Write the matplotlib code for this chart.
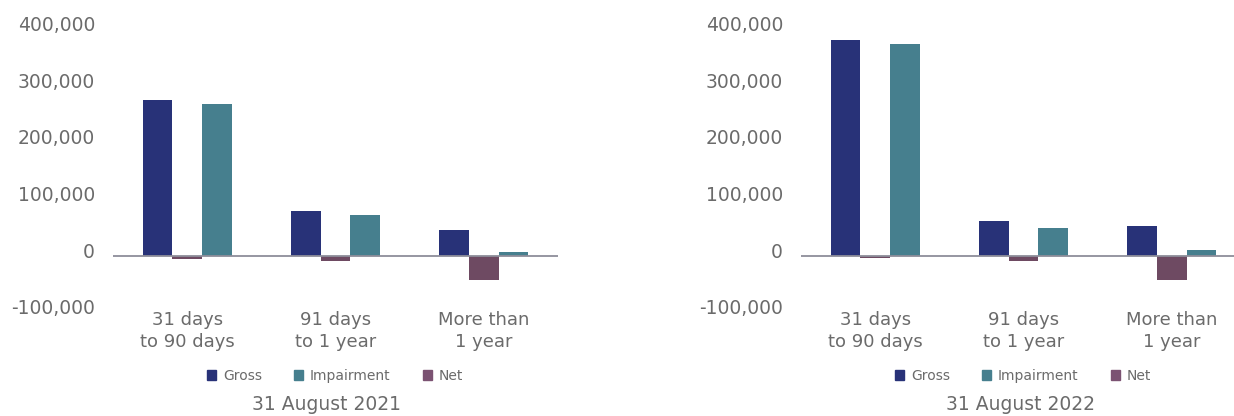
import matplotlib
matplotlib.use("Agg")
import matplotlib.pyplot as plt
import numpy as np
from matplotlib.transforms import ScaledTranslation
from matplotlib.patches import Patch

categories = ["31 days\nto 90 days", "91 days\nto 1 year", "More than\n1 year"]
series_names = ["Gross", "Impairment", "Net"]

gross_2021 = [275000, 80000, 46000]
impairment_2021 = [268000, 72000, 7000]
net_2021 = [-5000, -8000, -42000]

gross_2022 = [382000, 61000, 53000]
impairment_2022 = [375000, 49000, 11000]
net_2022 = [-4000, -8000, -42000]

titles = ["31 August 2021", "31 August 2022"]
yticks = [-100000, 0, 100000, 200000, 300000, 400000]

c_gross = "#283278"
c_imp = "#467F8E"
c_net = "#6E4A62"
c_text = "#6b6b6b"

W, H = 1234, 416
fig = plt.figure(figsize=(W / 100, H / 100), dpi=100)

panels = [
    (113, gross_2021, impairment_2021, net_2021, 335, 327, titles[0]),
    (801, gross_2022, impairment_2022, net_2022, 1023, 1021, titles[1]),
]

y_bot_px, y_top_px = 312.6, 29.6
for left_px, gross, imp, net, leg_x, title_x, title in panels:
    ax = fig.add_axes([left_px / W, 1 - y_bot_px / H, 445 / W, (y_bot_px - y_top_px) / H])
    x = np.arange(len(categories))
    w = 0.2
    ax.bar(x - w, gross, w, color=c_gross)
    ax.bar(x, net, w, color=c_net)
    ax.bar(x + w, imp, w, color=c_imp)
    ax.axhline(0, color="#8e8e9a", lw=1.3, zorder=3)
    ax.set_xlim(-0.5, 2.5)
    ax.set_ylim(-100000, 400000)
    for s in ax.spines.values():
        s.set_visible(False)
    ax.set_yticks(yticks)
    ax.set_yticklabels([f"{v:,}" for v in yticks])
    ax.set_xticks(x)
    ax.set_xticklabels(categories, linespacing=1.3)
    ax.tick_params(axis="y", length=0, pad=13, labelsize=13.5, labelcolor=c_text)
    ax.tick_params(axis="x", length=0, pad=-1, labelsize=13, labelcolor=c_text)
    off = ScaledTranslation(0, 6 / 100, fig.dpi_scale_trans)
    for lab in ax.get_yticklabels():
        lab.set_transform(lab.get_transform() + off)

    handles = [Patch(color=c_gross), Patch(color=c_imp), Patch(color="#7b5272")]
    fig.legend(handles, series_names, loc="center", ncol=3, frameon=False,
               bbox_to_anchor=(leg_x / W, 1 - 376 / H), fontsize=10,
               labelcolor=c_text, handlelength=0.65, handleheight=0.65,
               handletextpad=0.5, columnspacing=2.3)
    fig.text(title_x / W, 1 - 405 / H, title, ha="center", va="center",
             fontsize=13.5, color=c_text)

fig.savefig("out.png", dpi=100)
